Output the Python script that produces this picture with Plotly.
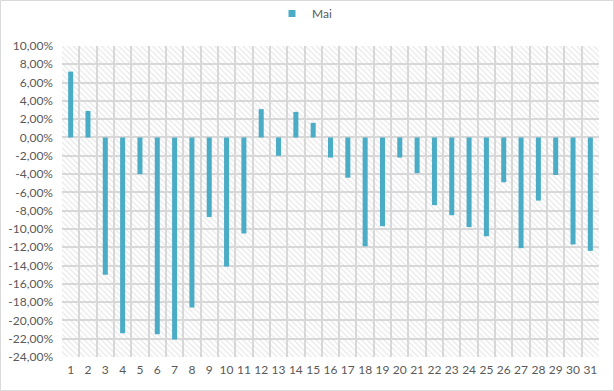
import plotly.graph_objects as go

days = list(range(1, 32))
mai = [7.2, 2.9, -15.0, -21.4, -4.0, -21.5, -22.1, -18.6, -8.7, -14.1,
       -10.5, 3.1, -2.0, 2.8, 1.6, -2.2, -4.4, -11.9, -9.7, -2.2,
       -3.9, -7.4, -8.5, -9.8, -10.8, -4.9, -12.1, -6.9, -4.1, -11.7, -12.4]
y_ticks = list(range(-24, 11, 2))
y_labels = [f"{v:.2f}".replace(".", ",") + "%" for v in y_ticks]

y_min, y_max = -24, 10
x_min, x_max = 0.5, 31.5
bar_color = "#4BACC6"

W, H = 614, 391
ml, mr, mt, mb = 62, 15, 46, 34
pw, ph = W - ml - mr, H - mt - mb

fig = go.Figure()

# hatched plot-area background (one bar spanning the whole plot area)
fig.add_trace(go.Bar(
    x=[(x_min + x_max) / 2], y=[y_max - y_min], base=[y_min], width=[x_max - x_min],
    marker=dict(color="rgba(0,0,0,0)", line=dict(width=0),
                pattern=dict(shape="\\", fgcolor="#d0d0d0", bgcolor="rgba(0,0,0,0)",
                             size=4, solidity=0.3)),
    hoverinfo="skip", showlegend=False))

fig.add_trace(go.Bar(x=days, y=mai, name="Mai", marker_color=bar_color,
                     marker_line_width=0, width=0.29, showlegend=False))

# legend entry with a small square key
fig.add_trace(go.Scatter(x=[None], y=[None], mode="markers", name="Mai",
                         marker=dict(symbol="square", size=7, color=bar_color)))

fig.update_layout(
    width=W, height=H,
    margin=dict(l=ml, r=mr, t=mt, b=mb, autoexpand=False),
    barmode="overlay",
    paper_bgcolor="white", plot_bgcolor="white",
    font=dict(family="Lato, Open Sans, sans-serif", size=12, color="#595959"),
    showlegend=True,
    legend=dict(orientation="h", x=0.5 - 26 / pw, xanchor="center", y=1 + (46 - 28) / ph,
                yanchor="bottom", bgcolor="rgba(0,0,0,0)", itemwidth=30,
                font=dict(size=12, color="#595959")),
    xaxis=dict(range=[x_min, x_max], tickmode="array", tickvals=days,
               ticktext=[str(d) for d in days], showgrid=False, zeroline=False,
               ticks="", showline=False, ticklabelstandoff=4,
               minor=dict(tickmode="array", tickvals=[d + 0.5 for d in [0] + days],
                          showgrid=True, gridcolor="#d9d9d9", gridwidth=1.5, ticks="")),
    yaxis=dict(range=[y_min, y_max], tickmode="array", tickvals=y_ticks,
               ticktext=y_labels, showgrid=True, gridcolor="#d9d9d9", gridwidth=1.5,
               zeroline=False, ticks="", ticklabelstandoff=8, showline=False),
    shapes=[dict(type="rect", xref="paper", yref="paper",
                 x0=(0.5 - ml) / pw, x1=(W - 0.5 - ml) / pw,
                 y0=-(mb - 0.5) / ph, y1=(ph + mt - 0.5) / ph,
                 line=dict(color="#d9d9d9", width=1), layer="below")],
)

fig.write_html("out.html", config={"displayModeBar": False},
               post_script="document.body.style.margin='0';")
